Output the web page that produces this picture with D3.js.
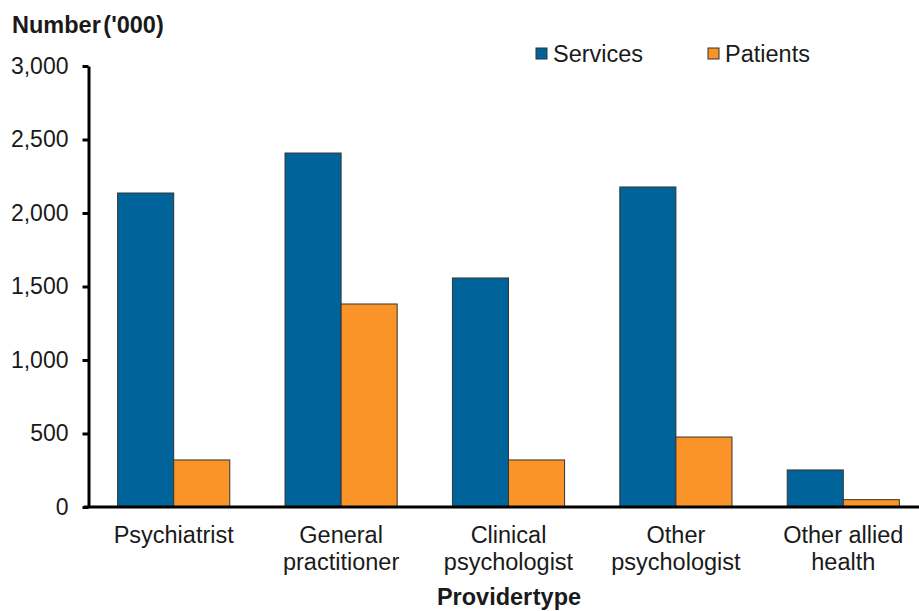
<!DOCTYPE html>
<html>
<head>
<meta charset="utf-8">
<script src="https://cdn.jsdelivr.net/npm/d3@7"></script>
<style>
  body { margin: 0; background: #fff; }
  text { font-family: "Liberation Sans", Arial, sans-serif; fill: #1a1a1a; }
</style>
</head>
<body>
<svg id="chart" width="919" height="611"></svg>
<script>
// data
const categories = [
  ['Psychiatrist'],
  ['General', 'practitioner'],
  ['Clinical', 'psychologist'],
  ['Other', 'psychologist'],
  ['Other allied', 'health']
]
const seriesNames = ['Services', 'Patients']
const services = [2136, 2408, 1558, 2177, 252]
const patients = [320, 1381, 320, 476, 50]
const yTicks = [0, 500, 1000, 1500, 2000, 2500, 3000]

const colors = { Services: '#00649a', Patients: '#fa9428' }

const svg = d3.select('#chart')
const plot = { left: 90, right: 927, top: 66, bottom: 507 }

const x0 = d3.scaleBand()
  .domain(d3.range(categories.length))
  .range([plot.left, plot.right])
  .paddingInner(0.33)
  .paddingOuter(0.165)

const x1 = d3.scaleBand()
  .domain(seriesNames)
  .range([0, x0.bandwidth()])

const y = d3.scaleLinear()
  .domain([0, 3000])
  .range([plot.bottom, plot.top])

const rows = categories.map((c, i) => ({ i, Services: services[i], Patients: patients[i] }))

// bars
svg.append('g')
  .selectAll('g')
  .data(rows)
  .join('g')
  .attr('transform', d => `translate(${x0(d.i)},0)`)
  .selectAll('rect')
  .data(d => seriesNames.map(k => ({ key: k, value: d[k] })))
  .join('rect')
  .attr('x', d => x1(d.key))
  .attr('y', d => y(d.value))
  .attr('width', x1.bandwidth())
  .attr('height', d => y(0) - y(d.value))
  .attr('fill', d => colors[d.key])
  .attr('stroke', '#333')
  .attr('stroke-width', 1)

// y axis
const yAxis = svg.append('g')
  .attr('transform', `translate(${plot.left - 1.5},0)`)
  .call(d3.axisLeft(y).tickValues(yTicks).tickFormat(d3.format(',')).tickSizeInner(6).tickSizeOuter(0).tickPadding(14))
yAxis.select('.domain').attr('stroke', '#000').attr('stroke-width', 3)
yAxis.selectAll('.tick line').attr('stroke', '#000').attr('stroke-width', 3)
yAxis.selectAll('.tick text').style('font-size', '23px').attr('fill', '#1a1a1a')

// x axis line
svg.append('line')
  .attr('x1', plot.left - 6).attr('x2', 919)
  .attr('y1', plot.bottom).attr('y2', plot.bottom)
  .attr('stroke', '#000').attr('stroke-width', 3)

// category labels
svg.append('g')
  .selectAll('text')
  .data(categories)
  .join('text')
  .attr('text-anchor', 'middle')
  .attr('x', (d, i) => x0(i) + x0.bandwidth() / 2)
  .attr('y', 543)
  .style('font-size', '23.5px')
  .selectAll('tspan')
  .data(d => d)
  .join('tspan')
  .attr('x', function () { return this.parentNode.getAttribute('x') })
  .attr('dy', (d, j) => j === 0 ? 0 : 27)
  .text(d => d)

// axis titles
svg.append('text')
  .attr('x', 12).attr('y', 33)
  .style('font-size', '23.5px').style('font-weight', 'bold')
  .style('word-spacing', '-4px')
  .text("Number ('000)")

svg.append('text')
  .attr('x', 509).attr('y', 605)
  .attr('text-anchor', 'middle')
  .style('font-size', '23.5px').style('font-weight', 'bold')
  .style('word-spacing', '-6px')
  .text('Provider type')

// legend
const legendX = [536, 708]
const legend = svg.append('g')
  .selectAll('g')
  .data(seriesNames)
  .join('g')
  .attr('transform', (d, i) => `translate(${legendX[i]},48)`)
legend.append('rect')
  .attr('width', 11).attr('height', 11)
  .attr('fill', d => colors[d])
  .attr('stroke', '#333').attr('stroke-width', 1)
legend.append('text')
  .attr('x', 17).attr('y', 14)
  .style('font-size', '23.5px')
  .text(d => d)
</script>
</body>
</html>
